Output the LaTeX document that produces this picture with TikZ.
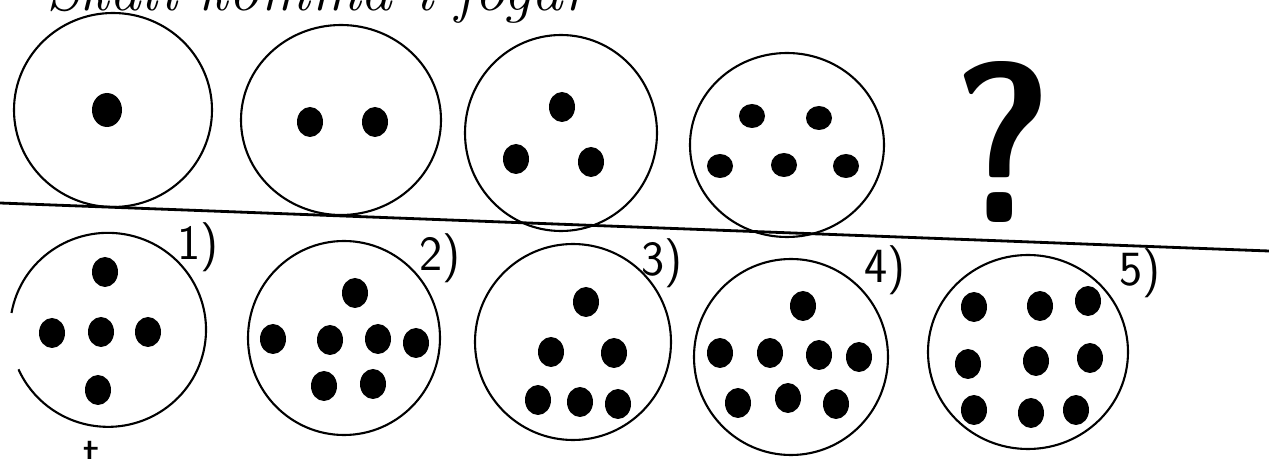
\documentclass[tikz,border=0pt]{standalone}
\usepackage{tikz}
\begin{document}
\begin{tikzpicture}[x=0.02cm,y=-0.02cm,
    ring/.style={line width=1.2pt},
    dot/.style={fill=black},
    num/.style={font=\fontsize{28}{28}\selectfont\sffamily}]
    \clip (0,0) rectangle (1269,459);
    \node [anchor=base west,font=\fontsize{36}{36}\selectfont\itshape] (title) at (40,11) {Skall komma i fogar};
    % upper row
    \draw [ring] (113,110) ellipse [x radius=99, y radius=97];
    \draw [ring] (341,120) ellipse [x radius=100, y radius=95];
    \draw [ring] (561,133) ellipse [x radius=96, y radius=98];
    \draw [ring] (787,145) ellipse [x radius=97, y radius=92];
    \fill [dot] (107,110) ellipse [x radius=15, y radius=17];
    \foreach \i/\j in {310/122,375/122,562/107,516/159,591/162}
    {
    \fill [dot] (\i,\j) ellipse [x radius=13, y radius=15];
    }
    \foreach \i/\j in {752/116,819/118,720/166,784/165,846/166}
    {
    \fill [dot] (\i,\j) ellipse [x radius=13, y radius=12];
    }
    \node at (1003,142) [font=\fontsize{130}{130}\selectfont\sffamily\bfseries,xscale=0.85] (ask) {?};
    \coordinate (lft) at (0,203);
    \coordinate (rgt) at (1269,251);
    \draw [line width=1.6pt] (lft) -- (rgt);
    % lower row
    \draw [ring] (11.5,313) arc [start angle=190, end angle=516, x radius=98, y radius=97];
    \draw [ring] (344,338) ellipse [x radius=96, y radius=97];
    \draw [ring] (573,342) ellipse [x radius=98, y radius=98];
    \draw [ring] (791,357) ellipse [x radius=97, y radius=98];
    \draw [ring] (1028,352) ellipse [x radius=100, y radius=97];
    \foreach \i/\j in {105/272,52/333,101/332,148/332,98/390,
        355/293,273/339,330/340,378/339,416/343,324/386,373/384,
        586/302,551/352,614/353,538/400,580/402,618/404,
        803/306,720/353,770/353,819/355,859/357,738/403,788/398,836/404,
        974/307,1040/306,1088/301,968/364,1036/361,1090/358,974/410,1031/413,1076/410}
    {
    \fill [dot] (\i,\j) ellipse [x radius=13, y radius=15];
    }
    \node at (198,247) [num] (n1) {1)};
    \node at (440,258) [num] (n2) {2)};
    \node at (662,263) [num] (n3) {3)};
    \node at (885,270) [num] (n4) {4)};
    \node at (1140,273) [num] (n5) {5)};
    \node at (92,455) [num] (tail) {t};
\end{tikzpicture}
\end{document}
